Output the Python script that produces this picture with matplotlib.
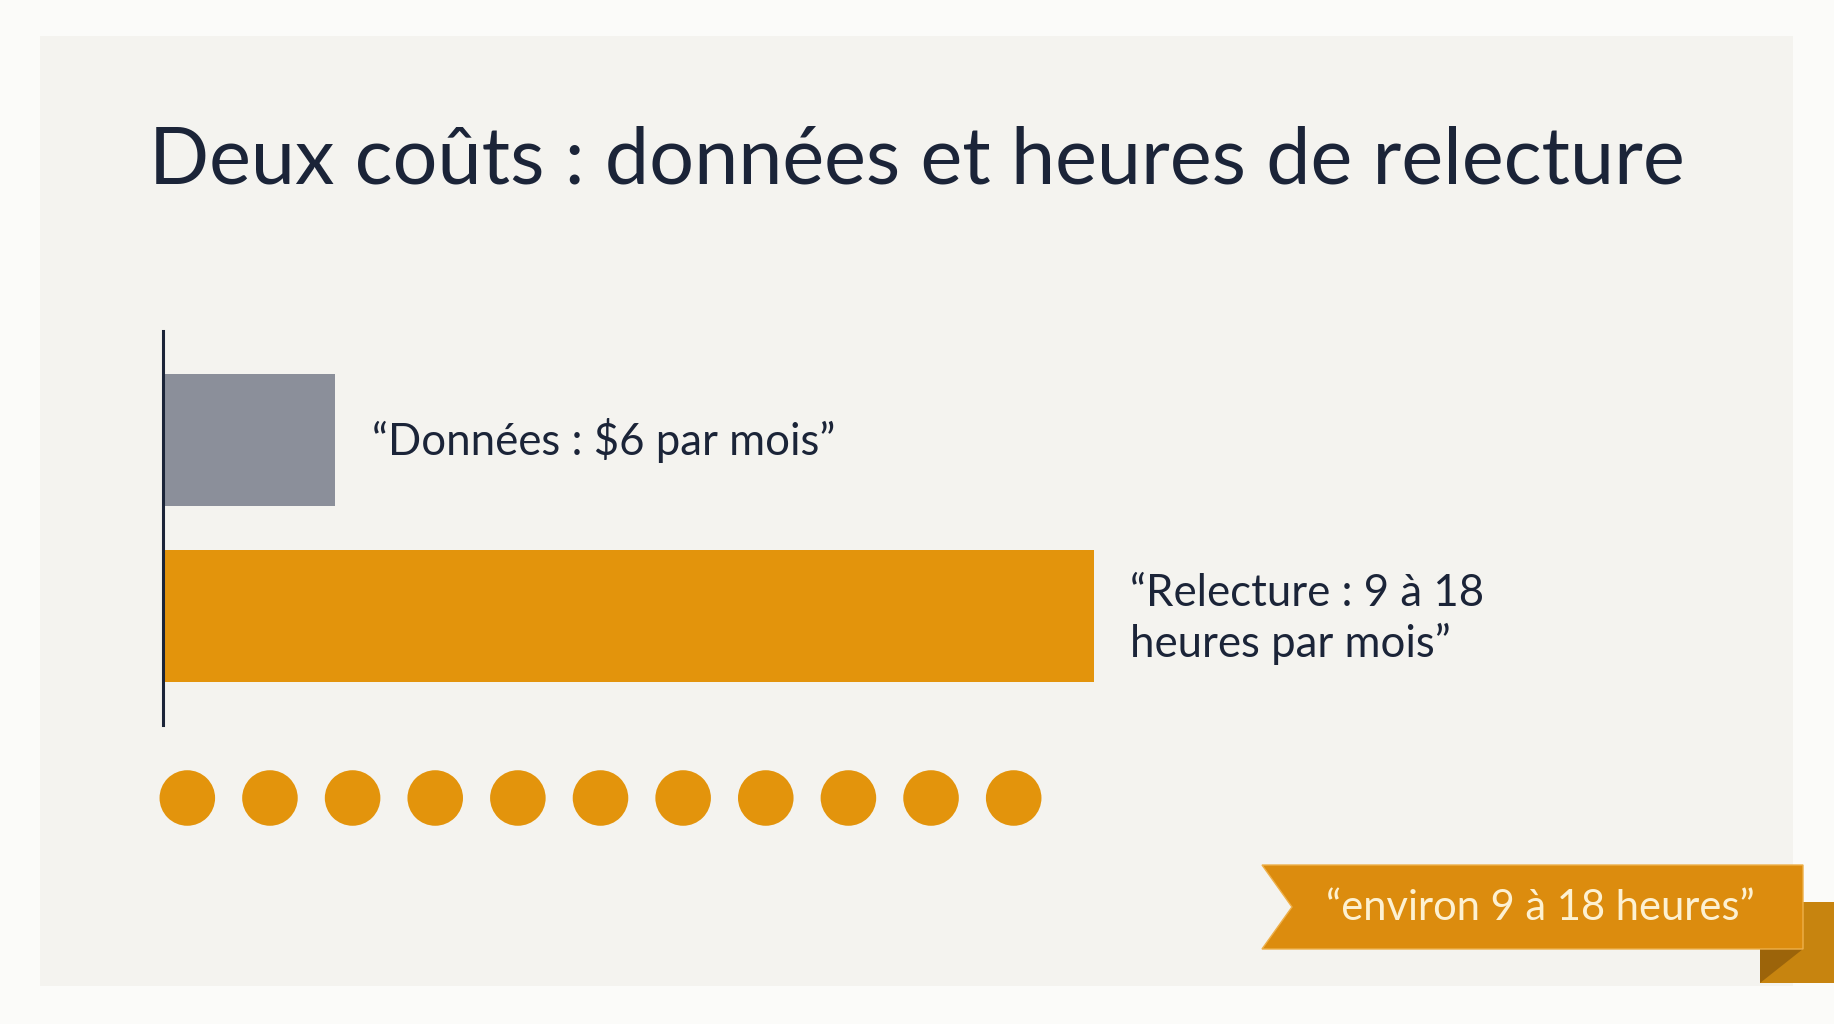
import matplotlib
matplotlib.use("Agg")
import matplotlib.pyplot as plt
from matplotlib.patches import Rectangle, Polygon

plt.rcParams['font.family'] = ['Lato', 'DejaVu Sans']

# Données du graphique
categories = ["Données", "Relecture"]
bar_lengths = [1.0, 5.4]          # longueur relative des barres
bar_labels = ["“Données : $6 par mois”", "“Relecture : 9 à 18\nheures par mois”"]
n_dots = 11                        # pastilles sous les barres
title = "Deux coûts : données et heures de relecture"
badge = "“environ 9 à 18 heures”"

# couleurs
bg_out = "#fbfbf9"
bg_card = "#f4f3ef"
navy = "#1b2438"
gray = "#8b8f9a"
orange = "#e3940c"
ribbon = "#dc8c0e"
ribbon_fold = "#c7840f"
ribbon_dark = "#9c640a"
cream = "#fdf1d2"

W, H = 1834, 1024
fig = plt.figure(figsize=(W / 100, H / 100), dpi=100, facecolor=bg_out)


def fx(px):
    return px / W


def fy(py):
    return 1 - py / H


def box(left, top, right, bottom):
    return [fx(left), fy(bottom), fx(right) - fx(left), fy(top) - fy(bottom)]


# carte de fond
fig.patches.append(Rectangle((fx(40), fy(986)), fx(1793) - fx(40), fy(36) - fy(986),
                             transform=fig.transFigure, facecolor=bg_card,
                             edgecolor="none", zorder=-5))

fig.text(fx(149), fy(183), title, fontsize=57, color=navy, va="baseline", ha="left")

# barres
ax = fig.add_axes(box(163, 331, 1163, 725))
ax.patch.set_visible(False)
ys = [1, 0]
ax.barh(ys, bar_lengths, height=0.75, color=[gray, orange], zorder=2)
ax.set_xlim(0, 5.8)
ax.set_ylim(-0.62, 1.62)
for side in ["top", "right", "bottom"]:
    ax.spines[side].set_visible(False)
ax.spines["left"].set_color(navy)
ax.spines["left"].set_linewidth(2.2)
ax.spines["left"].set_zorder(3)
ax.set_xticks([])
ax.set_yticks([])

# décalage vertical de la dernière ligne de base (points)
offsets = [-11, -29.5]
for y, v, lab, dy in zip(ys, bar_lengths, bar_labels, offsets):
    ax.annotate(lab, xy=(v, y), xytext=(26, dy), textcoords="offset points",
                ha="left", va="baseline", fontsize=31.5, color=navy,
                linespacing=1.27)

# pastilles
ax2 = fig.add_axes(box(146, 758, 1055, 838))
ax2.patch.set_visible(False)
ax2.scatter(range(n_dots), [0] * n_dots, s=1600, color=orange, edgecolors="none")
ax2.set_xlim(-0.5, n_dots - 0.5)
ax2.set_ylim(-1, 1)
ax2.axis("off")

# ruban
def poly(pts, **kw):
    p = Polygon([(fx(x), fy(y)) for x, y in pts], closed=True,
                transform=fig.transFigure, **kw)
    fig.patches.append(p)


poly([(1760, 902), (1834, 902), (1834, 983), (1760, 983)],
     facecolor=ribbon_fold, edgecolor="none", zorder=1)
poly([(1760, 949), (1803, 949), (1760, 983)],
     facecolor=ribbon_dark, edgecolor="none", zorder=1)
poly([(1262, 865), (1803, 865), (1803, 949), (1262, 949), (1292, 907)],
     facecolor=ribbon, edgecolor="#eeb04a", linewidth=1, zorder=2)
fig.text(fx(1540), fy(920), badge, fontsize=30, color=cream,
         ha="center", va="baseline", zorder=3)

fig.savefig("out.png", dpi=100, facecolor=bg_out)
